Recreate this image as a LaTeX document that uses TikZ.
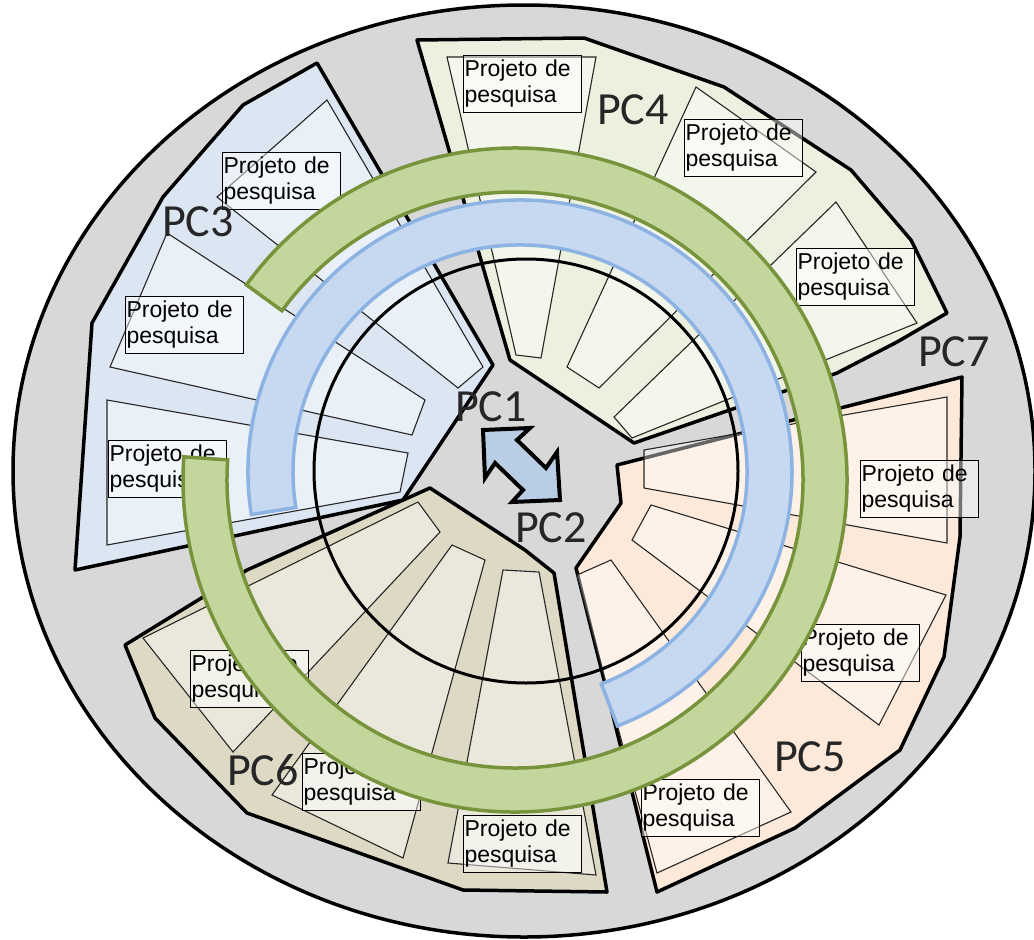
\documentclass[tikz,border=0pt]{standalone}
\usepackage{fontspec}
\setmainfont{Liberation Sans}
\newfontfamily\pcfont{Carlito}
\usetikzlibrary{calc}
\definecolor{diskfill}{HTML}{D8D8D8}
\definecolor{pcthreefill}{HTML}{DCE6F2}
\definecolor{pcfourfill}{HTML}{EBF1DE}
\definecolor{pcfivefill}{HTML}{FDE9D9}
\definecolor{pcsixfill}{HTML}{DDD9C4}
\definecolor{gbandfill}{HTML}{C3D69B}
\definecolor{gbandline}{HTML}{77933C}
\definecolor{bbandfill}{HTML}{C6D9F1}
\definecolor{bbandline}{HTML}{8DB3E2}
\definecolor{arrowfill}{HTML}{B9CDE5}
\definecolor{lbltext}{HTML}{262626}
\tikzset{
  sector/.style  = {draw=black, line width=3.5pt, line join=round},
  slot/.style    = {draw=black!85, line width=1.1pt, fill=white, fill opacity=0.4},
  projbox/.style = {rectangle, draw=black, line width=1pt, fill=white, fill opacity=0.45, text opacity=1,
                    anchor=north west, minimum width=118pt, minimum height=57pt, text width=116pt,
                    inner xsep=1pt, inner ysep=1pt, align=left, font=\fontsize{23}{26}\selectfont},
  pclbl/.style   = {font=\pcfont\fontsize{46}{46}\selectfont, text=lbltext, inner sep=0pt},
  gband/.style   = {draw=gbandline, fill=gbandfill, line width=3.5pt},
  bband/.style   = {draw=bbandline, fill=bbandfill, line width=3.5pt},
}
\begin{document}
\begin{tikzpicture}[x=1pt, y=-1pt]
  \useasboundingbox (0,0) rectangle (1034,940);
  % outer disk
  \draw[fill=diskfill, line width=3.5pt] (524,471) ellipse [x radius=511, y radius=466];
  % PC3
  \draw[sector, fill=pcthreefill] (317,63) -- (243,105) -- (163,197) -- (92,323) -- (75,570) -- (403,500) -- (493,365) -- cycle;
  \draw[slot] (327,100) -- (483,367) -- (458,388) -- (217,197) -- cycle;
  \draw[slot] (167,233) -- (425,400) -- (412,435) -- (110,367) -- cycle;
  \draw[slot] (107,400) -- (408,453) -- (400,492) -- (107,545) -- cycle;
  % PC4
  \draw[sector, fill=pcfourfill] (417,40) -- (584,38) -- (724,87) -- (851,170) -- (911,240) -- (947,313) -- (897,342) -- (837,373) -- (634,443) -- (510,360) -- cycle;
  \draw[slot] (447,57) -- (596,57) -- (541,358) -- (516,355) -- cycle;
  \draw[slot] (696,87) -- (816,172) -- (599,388) -- (567,367) -- cycle;
  \draw[slot] (836,202) -- (917,323) -- (632,438) -- (614,417) -- cycle;
  % PC5
  \draw[sector, fill=pcfivefill] (962,377) -- (960,537) -- (944,657) -- (900,750) -- (795,828) -- (657,892) -- (576,568) -- (621,503) -- (617,465) -- cycle;
  \draw[slot] (644,450) -- (947,397) -- (947,543) -- (644,488) -- cycle;
  \draw[slot] (651,505) -- (946,595) -- (879,725) -- (632,540) -- cycle;
  \draw[slot] (611,560) -- (791,812) -- (657,873) -- (577,575) -- cycle;
  % PC6
  \draw[sector, fill=pcsixfill] (430,488) -- (525,550) -- (554,573) -- (607,892) -- (463,890) -- (247,813) -- (155,718) -- (125,645) -- (247,570) -- cycle;
  \draw[slot] (143,638) -- (418,502) -- (440,532) -- (233,752) -- cycle;
  \draw[slot] (452,545) -- (485,560) -- (403,858) -- (272,795) -- cycle;
  \draw[slot] (503,570) -- (539,572) -- (596,875) -- (448,863) -- cycle;
  % project boxes
  \foreach \nm/\x/\y in {pthreea/222/152, pthreeb/125/296, pthreec/108/440,
                         pfoura/463/55, pfourb/684/119, pfourc/796/248,
                         pfivea/860/460, pfiveb/801/624, pfivec/641/779,
                         psixa/190/650, psixb/302/753, psixc/463/815}
    {\node[projbox] (\nm) at (\x,\y) {Projeto de\\pesquisa};}
  % inner circle
  \draw[line width=3pt] (526,471) circle[radius=212];
  % bands
  \coordinate (gc) at (515,480);
  \coordinate (bc) at (520,472);
  \draw[gband] (gc) ++(-144:332) arc[start angle=-144, end angle=184, radius=332] -- ++(4:44)
               arc[start angle=184, end angle=-144, radius=288] -- cycle;
  \draw[bband] (bc) ++(-189:272) arc[start angle=-189, end angle=69, radius=272] -- ++(249:45)
               arc[start angle=69, end angle=-189, radius=227] -- cycle;
  % exchange arrow
  \draw[fill=arrowfill, line width=4pt, line join=miter] (483,430) -- (530,428) -- (517,440) -- (546,468) -- (557,452)
       -- (560,500) -- (512,502) -- (523,490) -- (495,463) -- (485,478) -- cycle;
  % labels
  \node[pclbl] (pc1) at (491,407) {PC1};
  \node[pclbl] (pc2) at (551,528) {PC2};
  \node[pclbl] (pc3) at (198,222) {PC3};
  \node[pclbl] (pc4) at (633,110) {PC4};
  \node[pclbl] (pc5) at (810,757) {PC5};
  \node[pclbl] (pc6) at (263,770) {PC6};
  \node[pclbl] (pc7) at (954,352) {PC7};
\end{tikzpicture}
\end{document}
